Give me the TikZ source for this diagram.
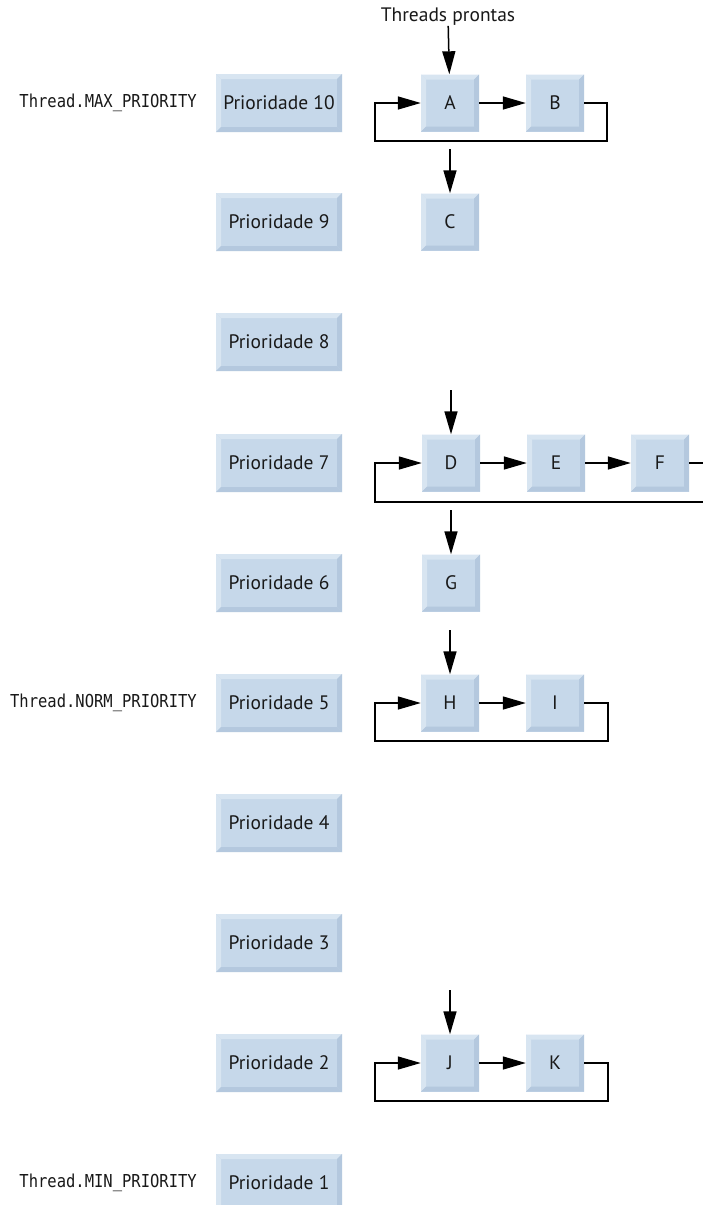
\documentclass[tikz,border=0pt]{standalone}
\usepackage{fontspec}
\setmainfont{PT Sans}
\newfontfamily\codefont{DejaVu Sans Mono}
\usetikzlibrary{arrows.meta}

\definecolor{boxblue}{RGB}{198,216,234}
\definecolor{bevhi}{RGB}{216,229,241}
\definecolor{bevlo}{RGB}{180,200,222}
\definecolor{inkgray}{RGB}{25,25,25}

\tikzset{
  bevel/.style={
    fill=boxblue,
    path picture={
      \fill[bevhi] (path picture bounding box.north west) -- (path picture bounding box.north east)
        -- ([xshift=-5pt,yshift=-5pt]path picture bounding box.north east)
        -- ([xshift=5pt,yshift=-5pt]path picture bounding box.north west) -- cycle;
      \fill[bevhi] (path picture bounding box.north west) -- (path picture bounding box.south west)
        -- ([xshift=5pt,yshift=5pt]path picture bounding box.south west)
        -- ([xshift=5pt,yshift=-5pt]path picture bounding box.north west) -- cycle;
      \fill[bevlo] (path picture bounding box.south west) -- (path picture bounding box.south east)
        -- ([xshift=-5pt,yshift=5pt]path picture bounding box.south east)
        -- ([xshift=5pt,yshift=5pt]path picture bounding box.south west) -- cycle;
      \fill[bevlo] (path picture bounding box.north east) -- (path picture bounding box.south east)
        -- ([xshift=-5pt,yshift=5pt]path picture bounding box.south east)
        -- ([xshift=-5pt,yshift=-5pt]path picture bounding box.north east) -- cycle;
    }},
  prio/.style={bevel, minimum width=126pt, minimum height=58pt, inner sep=0pt,
    text=inkgray, font=\fontsize{19.5}{22}\selectfont},
  thr/.style={bevel, minimum width=58pt, minimum height=57pt, inner sep=0pt,
    text=inkgray, font=\fontsize{19.5}{22}\selectfont},
  caption/.style={inner sep=0pt, text=inkgray, font=\fontsize{19.5}{22}\selectfont},
  const/.style={inner sep=0pt, anchor=east, text=inkgray, yscale=1.15,
    font=\codefont\fontsize{15.5}{18}\selectfont},
  wire/.style={line width=1.5pt, black},
  conn/.style={wire, -{Triangle[length=23pt,width=13pt]}},
}

\begin{document}
\begin{tikzpicture}[x=1pt,y=-1pt]
\clip (0,0) rectangle (703,1205);
\fill[white] (0,0) rectangle (703,1205);

% priority levels
\node[prio] (p10) at (279,103)  {Prioridade 10};
\node[prio] (p9)  at (279,222)  {Prioridade 9};
\node[prio] (p8)  at (279,342)  {Prioridade 8};
\node[prio] (p7)  at (279,463)  {Prioridade 7};
\node[prio] (p6)  at (279,583)  {Prioridade 6};
\node[prio] (p5)  at (279,703)  {Prioridade 5};
\node[prio] (p4)  at (279,823)  {Prioridade 4};
\node[prio] (p3)  at (279,943)  {Prioridade 3};
\node[prio] (p2)  at (279,1063) {Prioridade 2};
\node[prio] (p1)  at (279,1183) {Prioridade 1};

% constants of class Thread
\node[const] (cmax)  at (197,103)  {Thread.MAX\_PRIORITY};
\node[const] (cnorm) at (197,703)  {Thread.NORM\_PRIORITY};
\node[const] (cmin)  at (197,1183) {Thread.MIN\_PRIORITY};

% ready threads
\node[caption] (ready) at (448,17) {Threads prontas};
\node[thr] (A) at (450,103)  {A};
\node[thr] (B) at (555,103)  {B};
\node[thr] (C) at (450,222)  {C};
\node[thr] (D) at (451,463)  {D};
\node[thr] (E) at (556,463)  {E};
\node[thr] (F) at (660,463)  {F};
\node[thr] (G) at (451,583)  {G};
\node[thr] (H) at (450,703)  {H};
\node[thr] (I) at (555,703)  {I};
\node[thr] (J) at (450,1063) {J};
\node[thr] (K) at (555,1063) {K};

% loose ends of the queues
\coordinate (r10) at (607,141);  \coordinate (l10) at (375,141);
\coordinate (c0)  at (450,149);
\coordinate (d0)  at (451,390);
\coordinate (r7)  at (720,502);  \coordinate (l7)  at (375,502);
\coordinate (g0)  at (451,510);
\coordinate (h0)  at (450,630);
\coordinate (r5)  at (608,741);  \coordinate (l5)  at (375,741);
\coordinate (j0)  at (450,990);
\coordinate (r2)  at (608,1101); \coordinate (l2)  at (375,1101);

% priority 10 queue
\draw[conn] (ready) -- (A);
\draw[conn] (A) -- (B);
\draw[conn] (B.east) -| (r10) -- (l10) |- (A.west);
\draw[conn] (c0) -- (C);

% priority 7 queue
\draw[conn] (d0) -- (D);
\draw[conn] (D) -- (E);
\draw[conn] (E) -- (F);
\draw[conn] (F.east) -| (r7) -- (l7) |- (D.west);
\draw[conn] (g0) -- (G);

% priority 5 queue
\draw[conn] (h0) -- (H);
\draw[conn] (H) -- (I);
\draw[conn] (I.east) -| (r5) -- (l5) |- (H.west);

% priority 2 queue
\draw[conn] (j0) -- (J);
\draw[conn] (J) -- (K);
\draw[conn] (K.east) -| (r2) -- (l2) |- (J.west);
\end{tikzpicture}
\end{document}
